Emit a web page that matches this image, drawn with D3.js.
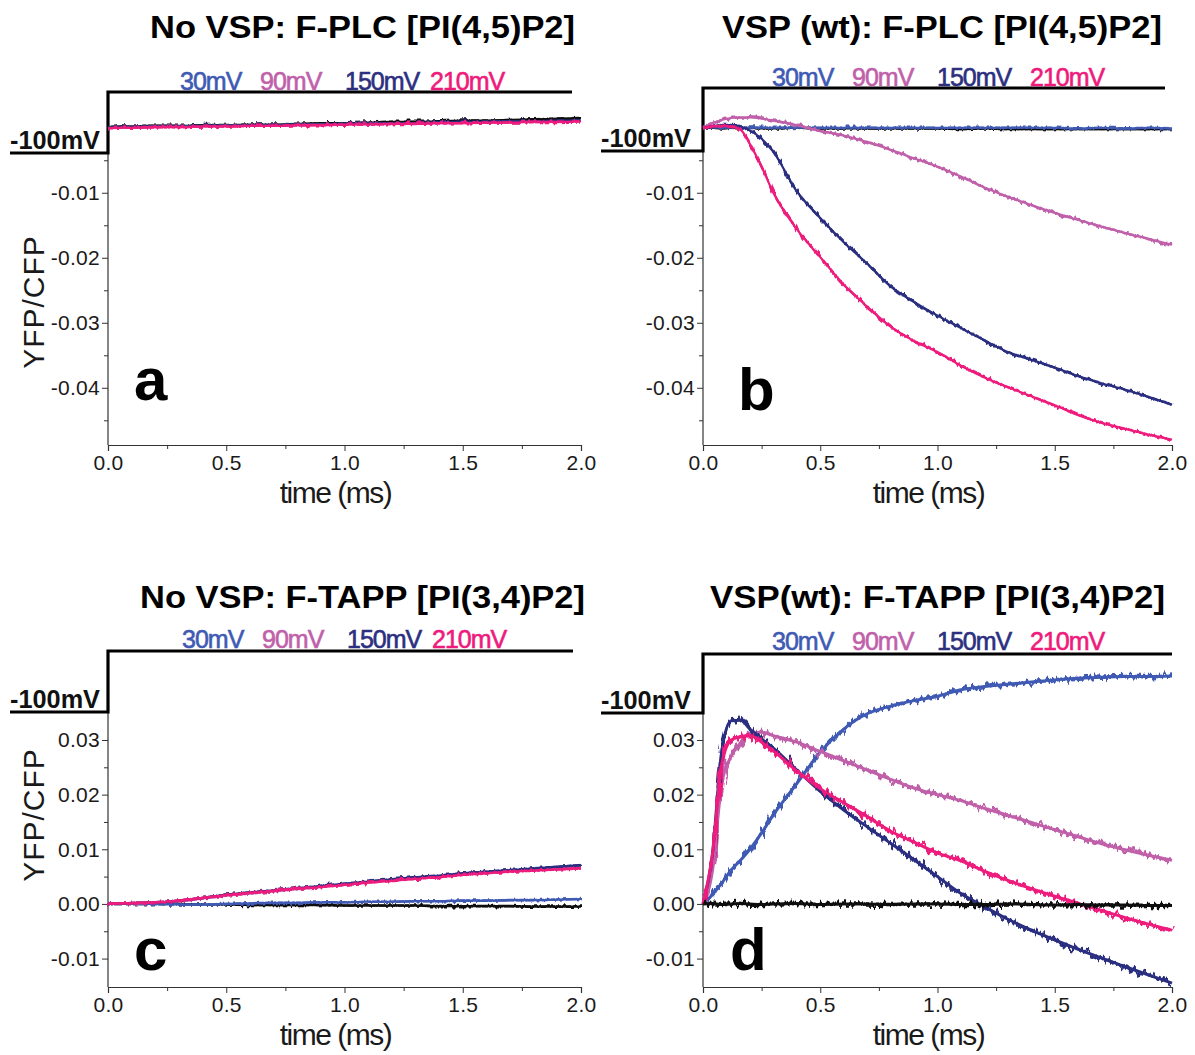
<!DOCTYPE html>
<html>
<head>
<meta charset="utf-8">
<script src="https://cdn.jsdelivr.net/npm/d3@7"></script>
<style>
    body { margin: 0; background: #fff; }
    svg { display: block; }
    text { font-family: "Liberation Sans", Arial, sans-serif; }
</style>
</head>
<body>
<div id="chart"></div>
<script>
// sample times (ms) shared by every trace
const time = [0, 0.04, 0.08, 0.12, 0.16, 0.2, 0.25, 0.3, 0.4, 0.5, 0.6, 0.7, 0.8, 0.9, 1.0, 1.1, 1.2, 1.3, 1.4, 1.5, 1.6, 1.7, 1.8, 1.9, 2.0];
const voltages = ["30mV", "90mV", "150mV", "210mV"];
const traceColors = ["#3f5ab4", "#c160aa", "#2c2f80", "#ee1b7c"];

// a: No VSP, F-PLC
const a_black = [0.0001, 0.0002, 0.0002, 0.0002, 0.0003, 0.0003, 0.0003, 0.0003, 0.0004, 0.0004, 0.0005, 0.0005, 0.0006, 0.0007, 0.0007, 0.0008, 0.0009, 0.0009, 0.0010, 0.0011, 0.0011, 0.0012, 0.0013, 0.0014, 0.0015];
const a_30 = [0.0000, 0.0001, 0.0001, 0.0001, 0.0001, 0.0002, 0.0002, 0.0002, 0.0003, 0.0003, 0.0004, 0.0004, 0.0005, 0.0005, 0.0006, 0.0006, 0.0007, 0.0007, 0.0008, 0.0008, 0.0009, 0.0009, 0.0010, 0.0010, 0.0011];
const a_90 = [0.0000, 0.0000, 0.0001, 0.0001, 0.0001, 0.0001, 0.0002, 0.0002, 0.0002, 0.0003, 0.0003, 0.0004, 0.0004, 0.0005, 0.0005, 0.0006, 0.0006, 0.0007, 0.0007, 0.0008, 0.0008, 0.0009, 0.0009, 0.0010, 0.0010];
const a_150 = [0.0000, 0.0001, 0.0001, 0.0001, 0.0002, 0.0002, 0.0002, 0.0002, 0.0003, 0.0003, 0.0004, 0.0004, 0.0005, 0.0005, 0.0006, 0.0006, 0.0007, 0.0007, 0.0008, 0.0009, 0.0009, 0.0010, 0.0010, 0.0011, 0.0011];
const a_210 = [-0.0001, 0.0000, 0.0000, 0.0000, 0.0001, 0.0001, 0.0001, 0.0001, 0.0002, 0.0002, 0.0003, 0.0003, 0.0004, 0.0004, 0.0005, 0.0005, 0.0006, 0.0006, 0.0007, 0.0007, 0.0008, 0.0008, 0.0009, 0.0009, 0.0010];

// b: VSP (wt), F-PLC
const b_black = [0.0000, 0.0000, -0.0001, 0.0000, -0.0001, 0.0000, -0.0001, -0.0001, 0.0000, -0.0001, -0.0001, -0.0001, -0.0001, -0.0001, -0.0001, -0.0002, -0.0001, -0.0002, -0.0002, -0.0002, -0.0002, -0.0002, -0.0002, -0.0002, -0.0002];
const b_30 = [0.0001, 0.0001, 0.0000, 0.0001, 0.0000, 0.0000, 0.0000, 0.0000, 0.0000, 0.0000, 0.0000, 0.0000, 0.0000, 0.0000, 0.0000, 0.0000, 0.0000, 0.0000, 0.0000, 0.0000, -0.0001, 0.0000, -0.0001, 0.0000, -0.0001];
const b_90 = [0.0000, 0.0007, 0.0012, 0.0015, 0.0016, 0.0016, 0.0014, 0.0011, 0.0004, -0.0005, -0.0012, -0.0022, -0.0034, -0.0047, -0.0060, -0.0075, -0.0092, -0.0106, -0.0119, -0.0131, -0.0142, -0.0152, -0.0162, -0.0171, -0.0180];
const b_150 = [0.0000, 0.0002, 0.0004, 0.0004, 0.0002, -0.0004, -0.0017, -0.0037, -0.0098, -0.0139, -0.0176, -0.0209, -0.0244, -0.0268, -0.0289, -0.0308, -0.0327, -0.0345, -0.0357, -0.0369, -0.0382, -0.0393, -0.0403, -0.0414, -0.0426];
const b_210 = [0.0000, 0.0002, 0.0003, 0.0002, -0.0003, -0.0025, -0.0060, -0.0100, -0.0156, -0.0199, -0.0241, -0.0275, -0.0306, -0.0328, -0.0345, -0.0366, -0.0384, -0.0399, -0.0413, -0.0427, -0.0442, -0.0454, -0.0463, -0.0472, -0.0480];

// c: No VSP, F-TAPP
const c_black = [0.0000, 0.0000, 0.0000, 0.0000, 0.0000, 0.0000, 0.0000, 0.0000, -0.0001, -0.0001, -0.0002, -0.0002, -0.0002, -0.0002, -0.0003, -0.0003, -0.0003, -0.0003, -0.0004, -0.0004, -0.0004, -0.0004, -0.0005, -0.0005, -0.0005];
const c_30 = [0.0000, 0.0000, 0.0000, 0.0000, 0.0000, 0.0000, -0.0001, -0.0001, -0.0001, 0.0000, 0.0001, 0.0002, 0.0002, 0.0003, 0.0003, 0.0004, 0.0004, 0.0005, 0.0005, 0.0006, 0.0006, 0.0007, 0.0007, 0.0008, 0.0009];
const c_90 = [0.0000, 0.0001, 0.0001, 0.0001, 0.0002, 0.0003, 0.0004, 0.0005, 0.0010, 0.0015, 0.0019, 0.0023, 0.0027, 0.0031, 0.0035, 0.0039, 0.0043, 0.0047, 0.0050, 0.0054, 0.0057, 0.0060, 0.0063, 0.0066, 0.0069];
const c_150 = [0.0000, 0.0001, 0.0001, 0.0002, 0.0002, 0.0003, 0.0004, 0.0006, 0.0011, 0.0017, 0.0021, 0.0025, 0.0029, 0.0033, 0.0037, 0.0041, 0.0045, 0.0049, 0.0052, 0.0056, 0.0059, 0.0062, 0.0065, 0.0068, 0.0071];
const c_210 = [0.0000, 0.0001, 0.0001, 0.0002, 0.0002, 0.0003, 0.0004, 0.0006, 0.0011, 0.0016, 0.0020, 0.0024, 0.0028, 0.0031, 0.0035, 0.0039, 0.0042, 0.0046, 0.0049, 0.0053, 0.0056, 0.0059, 0.0061, 0.0063, 0.0065];

// d: VSP (wt), F-TAPP
const d_black = [0.0000, 0.0001, -0.0001, 0.0000, 0.0001, 0.0000, -0.0001, 0.0000, 0.0001, -0.0001, 0.0000, 0.0000, -0.0001, 0.0000, 0.0000, -0.0001, -0.0001, 0.0000, -0.0001, -0.0002, -0.0001, -0.0002, -0.0002, -0.0003, -0.0003];
const d_30 = [0.0000, 0.0017, 0.0038, 0.0062, 0.0080, 0.0100, 0.0130, 0.0163, 0.0220, 0.0278, 0.0320, 0.0348, 0.0362, 0.0372, 0.0380, 0.0392, 0.0398, 0.0402, 0.0406, 0.0410, 0.0413, 0.0415, 0.0416, 0.0416, 0.0417];
const d_90 = [0.0000, 0.0060, 0.0220, 0.0270, 0.0295, 0.0312, 0.0314, 0.0308, 0.0296, 0.0279, 0.0262, 0.0245, 0.0228, 0.0212, 0.0200, 0.0189, 0.0175, 0.0162, 0.0149, 0.0136, 0.0123, 0.0110, 0.0099, 0.0089, 0.0080];
const d_150 = [0.0000, 0.0090, 0.0280, 0.0335, 0.0336, 0.0320, 0.0302, 0.0285, 0.0245, 0.0206, 0.0172, 0.0141, 0.0111, 0.0081, 0.0050, 0.0019, -0.0005, -0.0028, -0.0048, -0.0066, -0.0083, -0.0099, -0.0115, -0.0130, -0.0145];
const d_210 = [0.0000, 0.0090, 0.0255, 0.0300, 0.0306, 0.0308, 0.0296, 0.0280, 0.0243, 0.0211, 0.0185, 0.0160, 0.0133, 0.0113, 0.0093, 0.0079, 0.0060, 0.0043, 0.0028, 0.0014, 0.0001, -0.0012, -0.0025, -0.0037, -0.0048];

const xTicks = [0, 0.5, 1.0, 1.5, 2.0];
const xMinor = [0.25, 0.75, 1.25, 1.75];
const plcTicks = [-0.04, -0.03, -0.02, -0.01];
const plcMinor = [-0.045, -0.035, -0.025, -0.015, -0.005];
const tappTicks = [-0.01, 0.00, 0.01, 0.02, 0.03];
const tappMinor = [-0.005, 0.005, 0.015, 0.025];

// layout of the four panels
const panels = [
    {letter: "a", title: "No VSP: F-PLC [PI(4,5)P2]", titleX: 150, titleW: 425, titleY: 38,
     x0: 108, x1: 581, yTop: 92, yBot: 445, yDom: [-0.0488, 0.0055],
     ticks: plcTicks, minor: plcMinor, yLabelY: 302,
     stepLeft: 10, stepLow: 153, stepHigh: 92, stepEnd: 572, legendY: 90, legendX: [180, 260, 345, 430],
     letterX: 134, letterY: 400, blackLast: false,
     traces: [a_black, a_30, a_90, a_150, a_210]},
    {letter: "b", title: "VSP (wt): F-PLC [PI(4,5)P2]", titleX: 722, titleW: 440, titleY: 38,
     x0: 703, x1: 1172, yTop: 92, yBot: 445, yDom: [-0.0488, 0.0055],
     ticks: plcTicks, minor: plcMinor, yLabelY: null,
     stepLeft: 601, stepLow: 151, stepHigh: 88, stepEnd: 1165, legendY: 86, legendX: [772, 852, 937, 1030],
     letterX: 738, letterY: 410, blackLast: false,
     traces: [b_black, b_30, b_90, b_150, b_210]},
    {letter: "c", title: "No VSP: F-TAPP [PI(3,4)P2]", titleX: 140, titleW: 445, titleY: 608,
     x0: 108, x1: 581, yTop: 652, yBot: 987, yDom: [-0.0152, 0.0461],
     ticks: tappTicks, minor: tappMinor, yLabelY: 815,
     stepLeft: 10, stepLow: 712, stepHigh: 651, stepEnd: 573, legendY: 648, legendX: [182, 262, 347, 432],
     letterX: 134, letterY: 970, blackLast: false,
     traces: [c_black, c_30, c_90, c_150, c_210]},
    {letter: "d", title: "VSP(wt): F-TAPP [PI(3,4)P2]", titleX: 710, titleW: 455, titleY: 608,
     x0: 703, x1: 1172, yTop: 652, yBot: 987, yDom: [-0.0152, 0.0461],
     ticks: tappTicks, minor: tappMinor, yLabelY: null,
     stepLeft: 601, stepLow: 713, stepHigh: 654, stepEnd: 1172, legendY: 650, legendX: [772, 852, 937, 1030],
     letterX: 730, letterY: 970, blackLast: true,
     traces: [d_black, d_30, d_90, d_150, d_210]}
];

const W = 1195, H = 1055;
var svg = d3.select("#chart")
            .append("svg")
            .attr("width", W)
            .attr("height", H);

// jitter filter so the smooth traces look like noisy recordings
const defs = svg.append("defs");
function noiseFilter(id, scale, seed) {
    const f = defs.append("filter")
        .attr("id", id)
        .attr("filterUnits", "userSpaceOnUse")
        .attr("x", 0).attr("y", 0)
        .attr("width", W).attr("height", H);
    f.append("feTurbulence")
        .attr("type", "fractalNoise")
        .attr("baseFrequency", "0.3 0.03")
        .attr("numOctaves", 2)
        .attr("seed", seed)
        .attr("result", "noise");
    f.append("feDisplacementMap")
        .attr("in", "SourceGraphic")
        .attr("in2", "noise")
        .attr("scale", scale)
        .attr("xChannelSelector", "R")
        .attr("yChannelSelector", "G");
}
noiseFilter("jit", 6, 3);
noiseFilter("jitBig", 13, 7);

panels.forEach(function (p) {
    const g = svg.append("g");
    const x = d3.scaleLinear().domain([0, 2]).range([p.x0, p.x1]);
    const y = d3.scaleLinear().domain(p.yDom).range([p.yBot, p.yTop]);

    // x axis
    g.append("g")
        .attr("transform", `translate(0,${p.yBot})`)
        .call(d3.axisBottom(x).tickValues(xTicks).tickSize(6).tickPadding(4)
                .tickFormat(d3.format(".1f")));
    g.append("g")
        .attr("transform", `translate(0,${p.yBot})`)
        .call(d3.axisBottom(x).tickValues(xMinor).tickSize(4).tickFormat(""))
        .select(".domain").remove();

    // y axis (only below the -100mV step)
    const yAxis = g.append("g")
        .attr("transform", `translate(${p.x0},0)`)
        .call(d3.axisLeft(y).tickValues(p.ticks).tickSize(6).tickPadding(2)
                .tickFormat(d => d.toFixed(2)));
    yAxis.select(".domain").remove();
    g.append("g")
        .attr("transform", `translate(${p.x0},0)`)
        .call(d3.axisLeft(y).tickValues(p.minor).tickSize(4).tickFormat(""))
        .select(".domain").remove();
    g.append("line")
        .attr("x1", p.x0).attr("x2", p.x0)
        .attr("y1", p.stepLow).attr("y2", p.yBot)
        .attr("stroke", "#333")
        .attr("stroke-width", 1.2);

    g.selectAll(".tick line").attr("stroke", "#333");
    g.selectAll(".domain").attr("stroke", "#333").attr("stroke-width", 1.2);
    g.selectAll(".tick text")
        .attr("fill", "#1a1a1a")
        .style("font-size", "21px")
        .style("letter-spacing", "0.3px");

    // axis titles
    g.append("text")
        .attr("x", (p.x0 + p.x1) / 2 - 9)
        .attr("y", p.yBot + 58)
        .attr("text-anchor", "middle")
        .style("font-size", "30px")
        .style("letter-spacing", "-1.5px")
        .attr("fill", "#1a1a1a")
        .text("time (ms)");

    if (p.yLabelY) {
        g.append("text")
            .attr("transform", `translate(44,${p.yLabelY}) rotate(-90)`)
            .attr("text-anchor", "middle")
            .style("font-size", "30px")
            .style("letter-spacing", "1px")
            .attr("fill", "#1a1a1a")
            .text("YFP/CFP");
    }

    // panel title
    g.append("text")
        .attr("x", p.titleX)
        .attr("y", p.titleY)
        .attr("textLength", p.titleW)
        .attr("lengthAdjust", "spacingAndGlyphs")
        .style("font-size", "32px")
        .style("font-weight", "bold")
        .text(p.title);

    // voltage protocol step
    g.append("path")
        .attr("d", `M${p.stepLeft},${p.stepLow} H${p.x0} V${p.stepHigh} H${p.stepEnd}`)
        .attr("fill", "none")
        .attr("stroke", "#000")
        .attr("stroke-width", 3.2);
    g.append("text")
        .attr("x", p.stepLeft)
        .attr("y", p.stepLow - 4)
        .attr("textLength", 90)
        .attr("lengthAdjust", "spacingAndGlyphs")
        .style("font-size", "25px")
        .style("font-weight", "bold")
        .attr("fill", "#111")
        .text("-100mV");

    // legend of step voltages
    g.selectAll(".legend")
        .data(voltages)
        .join("text")
        .attr("x", (d, i) => p.legendX[i])
        .attr("y", p.legendY)
        .attr("fill", (d, i) => traceColors[i])
        .attr("stroke", (d, i) => traceColors[i])
        .attr("stroke-width", 0.6)
        .style("font-size", "25px")
        .style("letter-spacing", "-1px")
        .text(d => d);

    // traces: a clean body plus a jittered copy on top
    const line = d3.line()
        .x((d, i) => x(time[i]))
        .y(d => y(d))
        .curve(d3.curveMonotoneX);

    const series = [
        {values: p.traces[1], color: traceColors[0]},
        {values: p.traces[2], color: traceColors[1]},
        {values: p.traces[3], color: traceColors[2]},
        {values: p.traces[4], color: traceColors[3]}
    ];
    const blk = {values: p.traces[0], color: "#111"};
    if (p.blackLast) series.push(blk); else series.unshift(blk);

    const big = p.letter == "d";
    const trace = g.append("g")
        .selectAll("g")
        .data(series)
        .join("g");
    trace.append("path")
        .attr("d", d => line(d.values))
        .attr("fill", "none")
        .attr("stroke", d => d.color)
        .attr("stroke-width", big ? 3 : 2.2)
        .attr("stroke-linejoin", "round");
    trace.append("path")
        .attr("d", d => line(d.values))
        .attr("fill", "none")
        .attr("stroke", d => d.color)
        .attr("stroke-width", big ? 3.6 : 2.6)
        .attr("stroke-linejoin", "round")
        .attr("filter", big ? "url(#jitBig)" : "url(#jit)");

    // panel letter
    g.append("text")
        .attr("x", p.letterX)
        .attr("y", p.letterY)
        .style("font-size", "60px")
        .style("font-weight", "bold")
        .text(p.letter);
});
</script>
</body>
</html>
